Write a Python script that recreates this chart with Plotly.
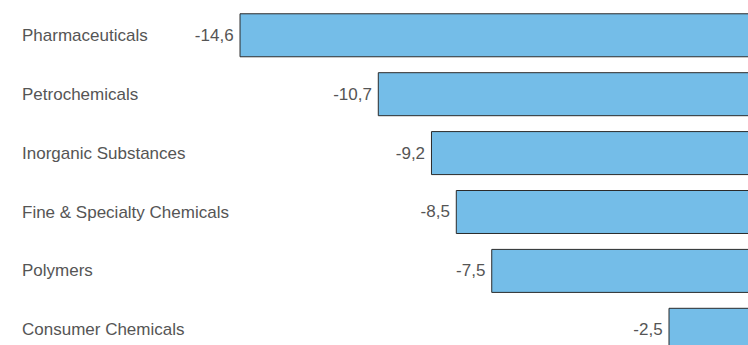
import plotly.graph_objects as go

categories = ["Pharmaceuticals", "Petrochemicals", "Inorganic Substances",
              "Fine & Specialty Chemicals", "Polymers", "Consumer Chemicals"]
values = [-14.6, -10.7, -9.2, -8.5, -7.5, -2.5]
value_labels = [f"{v:.1f}".replace(".", ",") + "\u2009" for v in values]

FONT = "Liberation Sans"
TEXT_COLOR = "#555555"
FSIZE = 17

fig = go.Figure()
fig.add_trace(go.Bar(
    x=values, y=categories, orientation="h",
    marker=dict(color="#74bde8", line=dict(color="#2b2b2b", width=1)),
    width=0.73,
    text=value_labels, textposition="outside",
    textfont=dict(family=FONT, size=FSIZE, color=TEXT_COLOR),
    cliponaxis=True,
    hoverinfo="skip",
))

for c in categories:
    fig.add_annotation(x=20 / 748, xref="paper", y=c, yref="y", text=c,
                       showarrow=False, xanchor="left", yanchor="middle",
                       font=dict(family=FONT, size=FSIZE, color=TEXT_COLOR))

fig.update_layout(
    width=748, height=345,
    margin=dict(l=0, r=0, t=0, b=0),
    paper_bgcolor="white", plot_bgcolor="white",
    showlegend=False,
    xaxis=dict(range=[-21.37, -0.272], visible=False, fixedrange=True),
    yaxis=dict(type="category", range=[5.258, -0.599], visible=False, fixedrange=True),
)

fig.write_html("out.html", config={"displayModeBar": False})
